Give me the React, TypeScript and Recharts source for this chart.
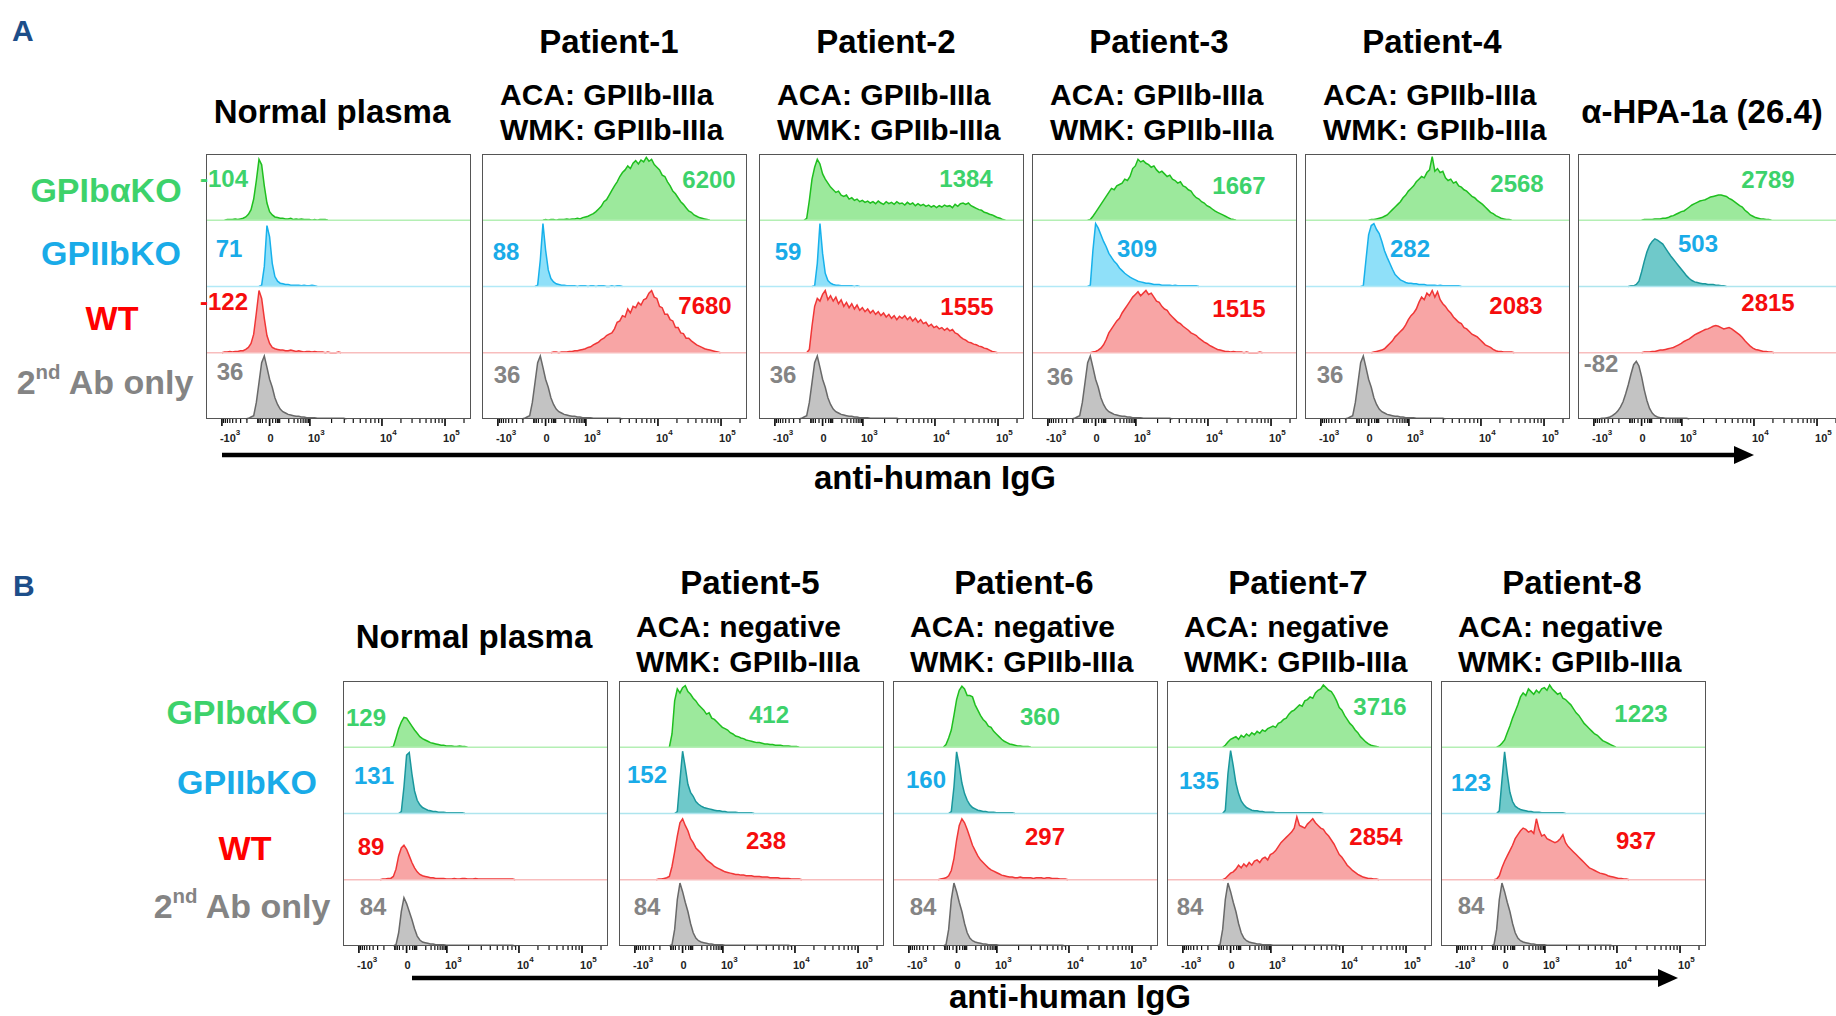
import React from "react";
import { ComposedChart, Area, XAxis, YAxis, ReferenceLine } from "recharts";

// [first channel, counts per 10-channel bin], display channels 0..1000
type Hist = [number, number[]];

const BIN = 10;
const BOX = 265;
const FONT = '"Liberation Sans", Arial, Helvetica, sans-serif';

// ---------- panel A ----------
const aNormalGreen: Hist = [80, [1,1,1,2,1,2,3,5,9,16,32,60,92,84,52,26,13,8,5,4,3,3,2,2,3,1,2,1,2,1,1,1,0,1,0,1,1,1]];
const aNormalBlue: Hist = [210, [2,30,92,75,35,15,8,5,4,3,3,2,2,2,2,1,2,1,1,2,1]];
const aNormalRed: Hist = [70, [1,1,2,1,2,2,3,3,5,8,14,28,60,94,82,52,26,14,8,6,5,4,4,3,3,4,3,2,3,2,1,2,2,1,2,1,1,1,0,1,0,0,0,1]];
const aGray: Hist = [160, [1,3,5,25,55,85,95,78,60,48,32,22,15,11,9,7,6,5,4,4,3,3,2,2,2,2,1,1,1,1,1,1,1,1,1,1,1]];

const p1Green: Hist = [240, [1,0,1,1,0,1,1,1,2,1,2,2,3,2,4,5,6,8,10,13,17,21,28,31,38,45,52,58,66,72,76,82,78,86,90,85,91,88,95,89,92,84,80,76,68,66,58,52,44,40,34,28,24,19,14,12,8,6,4,3,2,1]];
const p1Blue: Hist = [210, [2,40,95,55,25,12,7,4,3,2,2,1,1,1,1,0,1,1,1,0,1,1,0,1,1,1,0,0,1,0,1,1]];
const p1Red: Hist = [270, [1,1,0,1,1,1,2,2,3,3,4,5,6,8,9,12,14,16,20,22,26,28,30,36,46,48,56,54,66,60,70,68,76,72,80,82,90,94,84,82,70,68,58,58,50,48,38,38,30,29,22,22,18,15,12,10,8,6,5,4,3,2,1]];

const p2Green: Hist = [180, [3,30,62,80,92,85,70,62,56,50,46,42,44,38,36,38,32,34,30,32,28,30,27,29,26,28,25,29,26,24,28,25,27,24,28,25,26,23,27,24,26,22,25,22,24,21,23,20,22,19,22,20,23,21,22,19,24,21,25,26,24,26,22,20,18,16,15,12,11,9,8,6,4,3,1]];
const p2Blue: Hist = [210, [1,35,95,50,20,9,5,3,2,2,1,1,1,1,1,0,1]];
const p2Red: Hist = [190, [5,40,70,82,78,88,94,80,86,78,84,74,80,70,76,68,74,66,72,64,68,62,66,60,64,58,62,56,60,54,58,52,56,50,55,52,56,50,54,48,52,46,50,44,46,40,43,38,40,36,38,34,37,33,35,30,28,24,21,19,16,15,13,12,10,9,7,6,4,2,1]];

const p3Green: Hist = [220, [1,6,12,18,24,30,36,42,48,46,52,54,56,62,60,66,78,82,92,88,90,86,84,80,82,76,72,74,70,66,68,62,60,56,58,52,50,46,44,38,34,32,28,26,22,20,17,14,12,10,8,6,4,2,1]];
const p3Blue: Hist = [220, [2,55,95,88,78,68,60,50,44,38,34,28,24,20,17,14,12,10,8,7,6,5,5,4,3,3,3,2,2,2,2,1,2,1,1,1,1,1,1,1,1]];
const p3Red: Hist = [230, [1,2,4,7,12,20,30,36,42,48,52,60,66,72,78,84,88,92,86,90,94,88,90,84,78,76,70,66,64,58,54,50,46,44,40,37,34,30,28,26,22,19,16,14,11,9,7,5,4,3,2,2,1,2,1,1,1,0,1,0,0,0,0,1]];

const p4Green: Hist = [250, [1,1,2,3,4,6,8,12,16,20,24,28,34,38,44,48,52,58,62,66,64,72,76,96,74,78,72,74,64,60,62,56,58,52,50,46,44,40,36,34,30,27,24,20,16,12,10,7,5,3,2,1,1]];
const p4Blue: Hist = [220, [1,40,78,92,95,86,80,68,54,44,35,26,18,14,10,8,6,5,5,4,4,3,3,3,2,2,2,2,1,2,1,1,1,1,1,1,1]];
const p4Red: Hist = [260, [1,2,3,4,6,10,14,18,24,28,32,36,42,50,56,60,66,76,84,80,90,86,94,84,92,80,74,70,64,60,54,50,46,44,38,36,32,28,26,24,20,16,12,10,8,5,3,2,2,1,1,1,1]];

const hpaGreen: Hist = [250, [1,1,1,1,2,2,2,3,3,4,6,7,9,11,13,14,17,20,23,25,27,29,30,31,33,35,36,37,38,38,37,36,33,31,28,25,22,20,15,12,8,6,4,3,2,2,1,1]];
const hpaBlue: Hist = [200, [1,1,3,8,22,38,52,62,68,72,70,67,64,58,52,46,41,36,31,26,21,16,12,9,7,6,5,4,4,3,3,3,2,2,1,1]];
const hpaRed: Hist = [250, [1,1,1,2,2,3,4,4,5,6,7,8,10,12,14,17,19,21,24,27,29,31,33,35,36,38,40,41,40,38,36,37,38,36,33,30,27,23,18,14,10,7,5,4,3,2,2,1,1]];
const hpaGray: Hist = [90, [1,1,2,3,5,8,12,18,26,38,52,68,82,87,80,64,44,28,16,9,5,3,2,2,1,1,1,1,1,1,1,1,1]];

// ---------- panel B ----------
const bNormalGreen: Hist = [190, [1,14,28,38,45,44,38,32,26,21,16,13,11,9,7,6,5,4,3,3,2,2,2,1,1,2,1,1]];
const bNormalBlue: Hist = [220, [3,40,88,92,60,34,20,13,9,7,5,4,3,3,2,2,2,1,1,1,1,1,1,1]];
const bNormalRed: Hist = [150, [1,1,2,2,5,16,36,48,52,46,36,26,18,12,8,6,5,4,3,3,2,2,2,2,1,1,1,2,1,1,2,2,1,1,1,2,1,1,1,1,1,1,1,1,1,1,1,1,1,1]];
const bNormalGray: Hist = [200, [2,20,52,73,64,52,40,26,15,9,6,5,4,3,3,2,2,2,2,1,1,1,1,1,1,1,1,1,1,1,1,1,1,1,1,1,1,1,1,1,1,1,1,1,1]];
const bGray: Hist = [200, [2,25,70,95,82,66,52,34,20,12,8,6,5,4,3,3,2,2,2,2,1,1,1,1,1,1,1,1,1,1,1,1,1,1,1,1,1,1,1,1,1,1,1,1,1]];

const p5Green: Hist = [200, [20,70,88,82,90,93,84,80,74,70,64,60,56,50,52,44,42,38,34,30,28,26,22,20,17,16,14,13,11,10,9,8,7,7,6,5,5,4,4,3,3,3,2,2,2,1,1,1]];
const p5Blue: Hist = [220, [3,50,94,70,44,32,26,18,14,11,9,8,7,6,5,4,4,3,3,2,2,2,2,1,1,1,1,1,1]];
const p5Red: Hist = [150, [1,1,2,3,5,20,42,66,86,92,82,74,62,56,48,44,40,35,30,27,24,20,18,16,14,12,11,10,9,8,8,7,7,6,6,6,5,5,5,4,4,4,3,3,3,3,2,2,2,2,1,1,1,1]];

const p6Green: Hist = [200, [4,14,26,48,72,86,92,88,78,78,76,64,56,48,42,38,32,30,24,20,16,12,9,7,5,4,3,2,2,1,1,1]];
const p6Blue: Hist = [220, [3,40,93,72,46,30,20,13,9,7,5,4,3,3,2,2,2,1,1,1,1,1,1,1]];
const p6Red: Hist = [180, [1,2,3,6,14,32,60,82,92,86,76,64,52,44,36,30,26,22,18,15,13,11,9,7,6,5,4,4,3,3,4,3,3,3,3,2,3,3,3,2,3,3,2,2,2,1,1,1]];

const p7Green: Hist = [220, [3,8,12,14,16,12,18,15,20,17,22,19,24,21,26,24,28,30,32,30,36,38,42,44,50,54,56,60,64,62,70,72,76,74,82,86,88,94,90,86,84,78,70,60,56,48,42,36,32,26,22,16,12,8,5,3,2,1]];
const p7Blue: Hist = [220, [5,60,95,72,46,30,19,13,9,7,5,4,4,3,3,2,2,2,2,1,1,1,1,1,1,1,1,1,1,1,1,1,1,1,1,1,1]];
const p7Red: Hist = [220, [2,6,10,12,16,22,18,24,20,26,22,28,30,26,32,34,30,38,40,44,50,56,60,64,68,72,78,95,82,80,78,84,88,92,86,82,78,76,70,66,60,54,46,38,34,28,22,18,14,11,8,6,4,3,2,2,1,1]];

const p8Green: Hist = [220, [2,6,11,22,32,44,54,64,76,82,78,88,84,80,86,82,88,90,86,94,88,84,80,82,74,72,68,64,58,52,48,42,36,32,28,24,20,18,14,10,8,6,4,2]];
const p8Blue: Hist = [220, [4,50,93,60,32,18,11,8,6,5,4,3,3,2,2,2,1,1,1,1,1,1,1,1,1]];
const p8Red: Hist = [210, [1,6,18,28,36,44,52,62,68,74,78,76,72,74,70,92,76,66,68,62,60,58,56,58,62,68,56,50,46,42,38,34,30,26,22,18,16,14,12,10,9,8,6,5,4,3,2,2,1,1]];

// ---------- text ----------
const rowLabels = ["GPIb\u03b1KO", "GPIIbKO", "WT"];
const aTitles = ["Patient-1", "Patient-2", "Patient-3", "Patient-4"];
const aAca = ["ACA: GPIIb-IIIa", "ACA: GPIIb-IIIa", "ACA: GPIIb-IIIa", "ACA: GPIIb-IIIa"];
const aWmk = ["WMK: GPIIb-IIIa", "WMK: GPIIb-IIIa", "WMK: GPIIb-IIIa", "WMK: GPIIb-IIIa"];
const bTitles = ["Patient-5", "Patient-6", "Patient-7", "Patient-8"];
const bAca = ["ACA: negative", "ACA: negative", "ACA: negative", "ACA: negative"];
const bWmk = ["WMK: GPIIb-IIIa", "WMK: GPIIb-IIIa", "WMK: GPIIb-IIIa", "WMK: GPIIb-IIIa"];

const aNormalValues = ["-104", "71", "-122", "36"];
const p1Values = ["6200", "88", "7680", "36"];
const p2Values = ["1384", "59", "1555", "36"];
const p3Values = ["1667", "309", "1515", "36"];
const p4Values = ["2568", "282", "2083", "36"];
const hpaValues = ["2789", "503", "2815", "-82"];
const bNormalValues = ["129", "131", "89", "84"];
const p5Values = ["412", "152", "238", "84"];
const p6Values = ["360", "160", "297", "84"];
const p7Values = ["3716", "135", "2854", "84"];
const p8Values = ["1223", "123", "937", "84"];

// axis ticks (intensity values)
const majorTickValues = [-1000, 0, 1000, 10000, 100000];
const majorTickLabels: [string, string][] = [["-10", "3"], ["0", ""], ["10", "3"], ["10", "4"], ["10", "5"]];
const minorTickValues = [
  -900, -800, -700, -600, -500, -400, -300, -200, -100, -80, -60, -40, -20,
  20, 40, 60, 80, 100, 200, 300, 400, 500, 600, 700, 800, 900,
  2000, 3000, 4000, 5000, 6000, 7000, 8000, 9000,
  20000, 30000, 40000, 50000, 60000, 70000, 80000, 90000, 200000,
];

// biexponential-like display transform used by the cytometer axis
function axisPos(v: number): number {
  const a = Math.abs(v);
  let d: number;
  if (a < 100) d = a <= 10 ? 0 : 38 * Math.log10(a / 10);
  else if (a <= 1000) d = 38 + 114 * Math.log10(a / 100);
  else if (a <= 10000) d = 152 + 272 * Math.log10(a / 1000);
  else d = 424 + 238 * Math.log10(a / 10000);
  return v < 0 ? 240 - d * (180 / 152) : 240 + d;
}

const majorTickCh = majorTickValues.map(axisPos);
const axisTicks = [...majorTickCh, ...minorTickValues.map(axisPos)]
  .filter((c) => c >= 0 && c <= 1000)
  .sort((p, q) => p - q);

const SERIES = ["g", "b", "r", "k"];
const ROW_OFFSET = [300, 200, 100, 0];

const COLORS = {
  g: { stroke: "#1fbf1f", fill: "#9ce99c", base: "#b4efb4", text: "#3dd26b" },
  b: { stroke: "#17b1eb", fill: "#8fe0f9", base: "#b2e9f7", text: "#19abe8" },
  t: { stroke: "#1a979c", fill: "#6fc9ca", base: "#aee5ee", text: "#19abe8" },
  r: { stroke: "#f03636", fill: "#f8a5a5", base: "#f8bdbd", text: "#f50d0d" },
  k: { stroke: "#696969", fill: "#c3c3c3", base: "#d0d0d0", text: "#848484" },
};

function buildRows(hists: Hist[]) {
  const rows: Record<string, number | null>[] = [];
  for (let ch = 0; ch <= 1000; ch += BIN) {
    const row: Record<string, number | null> = { ch };
    hists.forEach(([start, h], i) => {
      const j = (ch - start) / BIN;
      const off = ROW_OFFSET[i];
      if (j >= 0 && j < h.length) row[SERIES[i]] = off + h[j];
      else if (j === -1 || j === h.length) row[SERIES[i]] = off;
      else row[SERIES[i]] = null;
    });
    rows.push(row);
  }
  return rows;
}

function AxisTick(props: any) {
  const { x, y, payload } = props;
  const idx = majorTickCh.findIndex((c) => Math.abs(c - payload.value) < 0.01);
  const major = idx >= 0;
  const lab = major ? majorTickLabels[idx] : null;
  return (
    <g>
      <line x1={x} x2={x} y1={y} y2={y + (major ? 7 : 4)} stroke="#111" strokeWidth={major ? 1.7 : 1.2} />
      {lab && (
        <text
          x={lab[1] ? x - 2 : x + 1}
          y={y + 23}
          textAnchor={lab[1] ? "start" : "middle"}
          fontSize={11}
          fontFamily={FONT}
          fill="#222"
        >
          {lab[0]}
          {lab[1] && (
            <tspan dy={-7} fontSize={8}>
              {lab[1]}
            </tspan>
          )}
        </text>
      )}
    </g>
  );
}

function Txt({
  x, y, size, color = "#000", anchor = "middle", children,
}: { x: number; y: number; size: number; color?: string; anchor?: string; children: React.ReactNode }) {
  const tr = anchor === "middle" ? "translateX(-50%)" : anchor === "end" ? "translateX(-100%)" : undefined;
  return (
    <div
      style={{
        position: "absolute", left: x, top: y - size * 0.49, fontSize: size, lineHeight: `${size}px`,
        color, whiteSpace: "nowrap", transform: tr,
      }}
    >
      {children}
    </div>
  );
}

function HistPanel({
  left, top, hists, values, spots, teal,
}: { left: number; top: number; hists: Hist[]; values: string[]; spots: number[][]; teal?: boolean }) {
  const rows = buildRows(hists);
  const pal = [COLORS.g, teal ? COLORS.t : COLORS.b, COLORS.r, COLORS.k];
  return (
    <div style={{ position: "absolute", left, top, width: BOX, height: BOX + 30 }}>
      <ComposedChart width={BOX} height={BOX + 30} data={rows} margin={{ top: 0, right: 0, bottom: 0, left: 0 }}>
        <XAxis
          dataKey="ch"
          type="number"
          domain={[0, 1000]}
          ticks={axisTicks}
          interval={0}
          tickSize={0}
          tickMargin={0}
          tickLine={false}
          axisLine={false}
          height={30}
          tick={(p: any) => <AxisTick {...p} />}
        />
        <YAxis hide type="number" domain={[0, 400]} />
        {[300, 200, 100].map((y, i) => (
          <ReferenceLine key={y} y={y} stroke={pal[i].base} strokeWidth={1.5} />
        ))}
        {SERIES.map((key, i) => (
          <Area
            key={key}
            dataKey={key}
            type="linear"
            baseValue={ROW_OFFSET[i]}
            stroke={pal[i].stroke}
            strokeWidth={1.5}
            fill={pal[i].fill}
            fillOpacity={1}
            connectNulls={false}
            dot={false}
            activeDot={false}
            isAnimationActive={false}
          />
        ))}
      </ComposedChart>
      <div
        style={{
          position: "absolute", left: 0, top: 0, width: BOX, height: BOX,
          border: "1.5px solid #555", boxSizing: "border-box", pointerEvents: "none",
        }}
      />
      {values.map((v, i) => (
        <Txt key={i} x={spots[i][0]} y={spots[i][1]} size={24} color={pal[i].text}>
          {v}
        </Txt>
      ))}
    </div>
  );
}

function SecondAb() {
  return (
    <>
      2<span style={{ fontSize: "0.6em", position: "relative", top: "-0.75em" }}>nd</span> Ab only
    </>
  );
}

const A_LEFTS = [206, 482, 759, 1032, 1305, 1578];
const A_TOP = 154;
const B_LEFTS = [343, 619, 893, 1167, 1441];
const B_TOP = 681;

const aPanels = [
  { hists: [aNormalGreen, aNormalBlue, aNormalRed, aGray], values: aNormalValues, spots: [[18, 25], [23, 95], [18, 148], [24, 218]] },
  { hists: [p1Green, p1Blue, p1Red, aGray], values: p1Values, spots: [[227, 26], [24, 98], [223, 152], [25, 221]] },
  { hists: [p2Green, p2Blue, p2Red, aGray], values: p2Values, spots: [[207, 25], [29, 98], [208, 153], [24, 221]] },
  { hists: [p3Green, p3Blue, p3Red, aGray], values: p3Values, spots: [[207, 32], [105, 95], [207, 155], [28, 223]] },
  { hists: [p4Green, p4Blue, p4Red, aGray], values: p4Values, spots: [[212, 30], [105, 95], [211, 152], [25, 221]] },
  { hists: [hpaGreen, hpaBlue, hpaRed, hpaGray], values: hpaValues, spots: [[190, 26], [120, 90], [190, 149], [23, 210]], teal: true },
];

const bPanels = [
  { hists: [bNormalGreen, bNormalBlue, bNormalRed, bNormalGray], values: bNormalValues, spots: [[23, 37], [31, 95], [28, 166], [30, 226]] },
  { hists: [p5Green, p5Blue, p5Red, bGray], values: p5Values, spots: [[150, 34], [28, 94], [147, 160], [28, 226]] },
  { hists: [p6Green, p6Blue, p6Red, bGray], values: p6Values, spots: [[147, 36], [33, 99], [152, 156], [30, 226]] },
  { hists: [p7Green, p7Blue, p7Red, bGray], values: p7Values, spots: [[213, 26], [32, 100], [209, 156], [23, 226]] },
  { hists: [p8Green, p8Blue, p8Red, bGray], values: p8Values, spots: [[200, 33], [30, 102], [195, 160], [30, 225]] },
];

export default function App() {
  const labelColors = [COLORS.g.text, COLORS.b.text, "#ff0000", COLORS.k.text];
  return (
    <div
      style={{
        position: "absolute", left: 0, top: 0, width: 1836, height: 1016, background: "#fff",
        overflow: "hidden", fontFamily: FONT, fontWeight: 700,
      }}
    >
      {/* panel A */}
      <Txt x={12} y={31} size={30} color="#1d4e89" anchor="start">A</Txt>
      <Txt x={332} y={111} size={33}>Normal plasma</Txt>
      {aTitles.map((t, i) => (
        <React.Fragment key={t}>
          <Txt x={A_LEFTS[i + 1] + 127} y={41} size={33}>{t}</Txt>
          <Txt x={A_LEFTS[i + 1] + 18} y={95} size={30} anchor="start">{aAca[i]}</Txt>
          <Txt x={A_LEFTS[i + 1] + 18} y={130} size={30} anchor="start">{aWmk[i]}</Txt>
        </React.Fragment>
      ))}
      <Txt x={1702} y={111} size={33}>{"\u03b1-HPA-1a (26.4)"}</Txt>
      <Txt x={106} y={190} size={34} color={labelColors[0]}>{rowLabels[0]}</Txt>
      <Txt x={111} y={253} size={34} color={labelColors[1]}>{rowLabels[1]}</Txt>
      <Txt x={112} y={318} size={34} color={labelColors[2]}>{rowLabels[2]}</Txt>
      <Txt x={105} y={382} size={34} color={labelColors[3]}><SecondAb /></Txt>
      {aPanels.map((p, i) => (
        <HistPanel key={i} left={A_LEFTS[i]} top={A_TOP} hists={p.hists} values={p.values} spots={p.spots} teal={p.teal} />
      ))}
      <Txt x={935} y={477} size={33}>anti-human IgG</Txt>

      {/* panel B */}
      <Txt x={13} y={586} size={30} color="#1d4e89" anchor="start">B</Txt>
      <Txt x={474} y={636} size={33}>Normal plasma</Txt>
      {bTitles.map((t, i) => (
        <React.Fragment key={t}>
          <Txt x={B_LEFTS[i + 1] + 131} y={582} size={33}>{t}</Txt>
          <Txt x={B_LEFTS[i + 1] + 17} y={627} size={30} anchor="start">{bAca[i]}</Txt>
          <Txt x={B_LEFTS[i + 1] + 17} y={662} size={30} anchor="start">{bWmk[i]}</Txt>
        </React.Fragment>
      ))}
      <Txt x={242} y={712} size={34} color={labelColors[0]}>{rowLabels[0]}</Txt>
      <Txt x={247} y={782} size={34} color={labelColors[1]}>{rowLabels[1]}</Txt>
      <Txt x={245} y={848} size={34} color={labelColors[2]}>{rowLabels[2]}</Txt>
      <Txt x={242} y={906} size={34} color={labelColors[3]}><SecondAb /></Txt>
      {bPanels.map((p, i) => (
        <HistPanel key={i} left={B_LEFTS[i]} top={B_TOP} hists={p.hists} values={p.values} spots={p.spots} teal />
      ))}
      <Txt x={1070} y={996} size={33}>anti-human IgG</Txt>

      {/* arrows */}
      <svg width={1836} height={1016} style={{ position: "absolute", left: 0, top: 0, pointerEvents: "none" }}>
        <line x1={222} x2={1738} y1={455} y2={455} stroke="#000" strokeWidth={4.5} />
        <polygon points="1734,446 1754,455 1734,464" fill="#000" />
        <line x1={412} x2={1662} y1={978} y2={978} stroke="#000" strokeWidth={4.5} />
        <polygon points="1658,969 1678,978 1658,987" fill="#000" />
      </svg>
    </div>
  );
}
